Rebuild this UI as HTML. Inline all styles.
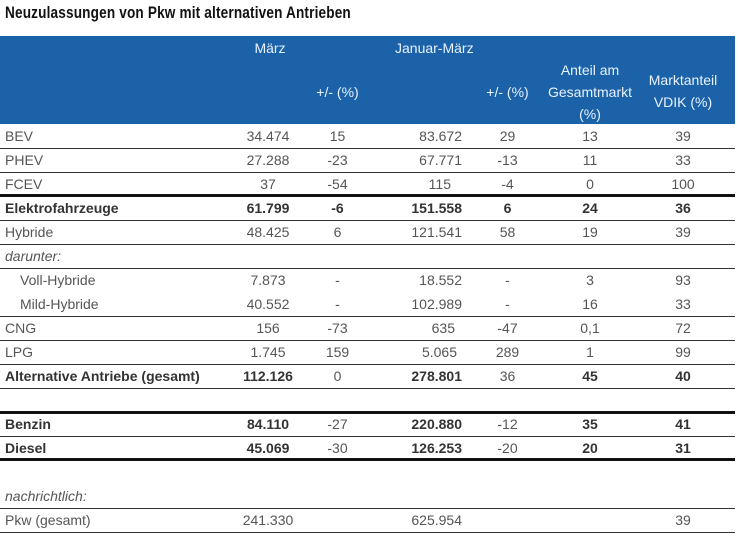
<!DOCTYPE html>
<html><head><meta charset="utf-8"><style>
body{margin:0;width:738px;height:548px;background:#fff;position:relative;overflow:hidden;font-family:"Liberation Sans",sans-serif;}
.t{position:absolute;left:5px;top:3px;font-size:17px;font-weight:bold;color:#111;transform:scaleX(0.8);transform-origin:left top;letter-spacing:0.2px;white-space:nowrap}
.hd{position:absolute;left:0;top:36px;width:735px;height:88px;background:#1b62a8;}
.h{position:absolute;color:#e8f2ff;font-size:14px;text-align:center;line-height:22px;white-space:nowrap}
.r{position:absolute;left:0;width:735px;height:24px;line-height:24px;font-size:14px;color:#555}
.r span{position:absolute;top:0;white-space:nowrap}
.c0{left:5px}
.c1{left:218px;width:100px;text-align:center}
.c2{left:300px;width:75px;text-align:center}
.c3{right:273px;text-align:right}
.c4{left:470px;width:75px;text-align:center}
.c5{left:545px;width:90px;text-align:center}
.c6{left:635px;width:96px;text-align:center}
.b{font-weight:bold;color:#333}
.ln{position:absolute;left:0;width:735px;height:1px;background:#333}
.tk{height:3px;margin-top:-1px;background:#111}
</style></head><body>
<div class="t">Neuzulassungen von Pkw mit alternativen Antrieben</div>
<div class="hd">
<div class="h" style="left:230px;width:80px;top:1px">März</div>
<div class="h" style="left:395px;top:1px">Januar-März</div>
<div class="h" style="left:300px;width:75px;top:45px">+/- (%)</div>
<div class="h" style="left:470px;width:75px;top:45px">+/- (%)</div>
<div class="h" style="left:540px;width:100px;top:23px">Anteil am<br>Gesamtmarkt<br>(%)</div>
<div class="h" style="left:635px;width:96px;top:33px">Marktanteil<br>VDIK (%)</div>
</div>

<div class="r" style="top:124px"><span class="c0">BEV</span><span class="c1">34.474</span><span class="c2">15</span><span class="c3">83.672</span><span class="c4">29</span><span class="c5">13</span><span class="c6">39</span></div>
<div class="r" style="top:148px"><span class="c0">PHEV</span><span class="c1">27.288</span><span class="c2">-23</span><span class="c3">67.771</span><span class="c4">-13</span><span class="c5">11</span><span class="c6">33</span></div>
<div class="r" style="top:172px"><span class="c0">FCEV</span><span class="c1">37</span><span class="c2">-54</span><span class="c3" style="right:284px">115</span><span class="c4">-4</span><span class="c5">0</span><span class="c6">100</span></div>
<div class="r b" style="top:196px"><span class="c0">Elektrofahrzeuge</span><span class="c1">61.799</span><span class="c2">-6</span><span class="c3">151.558</span><span class="c4">6</span><span class="c5">24</span><span class="c6">36</span></div>
<div class="r" style="top:220px"><span class="c0">Hybride</span><span class="c1">48.425</span><span class="c2">6</span><span class="c3">121.541</span><span class="c4">58</span><span class="c5">19</span><span class="c6">39</span></div>
<div class="r" style="top:244px"><span class="c0" style="font-style:italic">darunter:</span></div>
<div class="r" style="top:268px"><span class="c0" style="left:20px">Voll-Hybride</span><span class="c1">7.873</span><span class="c2">-</span><span class="c3">18.552</span><span class="c4">-</span><span class="c5">3</span><span class="c6">93</span></div>
<div class="r" style="top:292px"><span class="c0" style="left:20px">Mild-Hybride</span><span class="c1">40.552</span><span class="c2">-</span><span class="c3">102.989</span><span class="c4">-</span><span class="c5">16</span><span class="c6">33</span></div>
<div class="r" style="top:316px"><span class="c0">CNG</span><span class="c1">156</span><span class="c2">-73</span><span class="c3" style="right:280px">635</span><span class="c4">-47</span><span class="c5">0,1</span><span class="c6">72</span></div>
<div class="r" style="top:340px"><span class="c0">LPG</span><span class="c1">1.745</span><span class="c2">159</span><span class="c3" style="right:278px">5.065</span><span class="c4">289</span><span class="c5">1</span><span class="c6">99</span></div>
<div class="r b" style="top:364px"><span class="c0">Alternative Antriebe (gesamt)</span><span class="c1">112.126</span><span class="c2" style="font-weight:normal;color:#555">0</span><span class="c3">278.801</span><span class="c4" style="font-weight:normal;color:#555">36</span><span class="c5">45</span><span class="c6">40</span></div>
<div class="r" style="top:412px"><span class="c0 b">Benzin</span><span class="c1 b">84.110</span><span class="c2">-27</span><span class="c3 b">220.880</span><span class="c4">-12</span><span class="c5 b">35</span><span class="c6 b">41</span></div>
<div class="r" style="top:436px"><span class="c0 b">Diesel</span><span class="c1 b">45.069</span><span class="c2">-30</span><span class="c3 b">126.253</span><span class="c4">-20</span><span class="c5 b">20</span><span class="c6 b">31</span></div>
<div class="r" style="top:484px"><span class="c0" style="font-style:italic">nachrichtlich:</span></div>
<div class="r" style="top:508px"><span class="c0">Pkw (gesamt)</span><span class="c1">241.330</span><span class="c3">625.954</span><span class="c6">39</span></div>

<div class="ln" style="top:148px"></div>
<div class="ln" style="top:172px"></div>
<div class="ln tk" style="top:195px"></div>
<div class="ln" style="top:220px"></div>
<div class="ln" style="top:244px"></div>
<div class="ln" style="top:268px"></div>
<div class="ln" style="top:316px"></div>
<div class="ln" style="top:340px"></div>
<div class="ln" style="top:364px"></div>
<div class="ln" style="top:388px"></div>
<div class="ln tk" style="top:412px"></div>
<div class="ln" style="top:436px"></div>
<div class="ln tk" style="top:459px"></div>
<div class="ln" style="top:508px"></div>
<div class="ln" style="top:532px"></div>
</body></html>
